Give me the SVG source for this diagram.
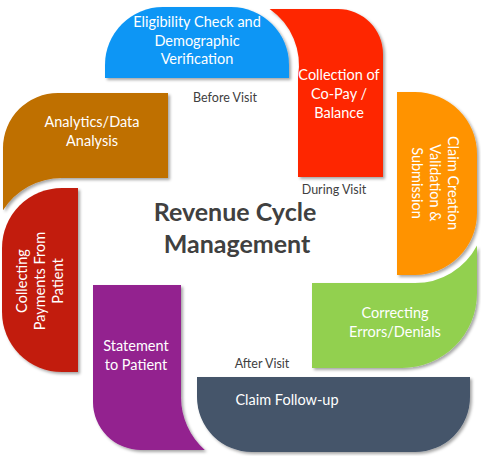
<svg xmlns="http://www.w3.org/2000/svg" width="481" height="456" viewBox="0 0 481 456">
<defs>
<filter id="sh" x="-10%" y="-10%" width="125%" height="125%">
<feDropShadow dx="2" dy="2" stdDeviation="1.5" flood-color="#000" flood-opacity="0.35"/>
</filter>
</defs>
<style>
.shape{filter:url(#sh);}
.lbl{font-family:Lato,"Open Sans",sans-serif;font-size:14.5px;fill:#fff;text-anchor:middle;}
.phase{font-family:Lato,"Open Sans",sans-serif;font-size:12.5px;fill:#404040;text-anchor:middle;}
.title{font-family:Lato,"Open Sans",sans-serif;font-size:25px;font-weight:bold;fill:#404040;text-anchor:middle;}
</style>
<rect width="481" height="456" fill="#fff"/>
<g id="connectors"></g>
<g id="eligibility">
<path class="shape" fill="#0A96F5" d="M105,78 L105,65 A58,58 0 0 1 163,7 L231,7 A58,58 0 0 1 289,65 L289,78 Z"/>
<text class="lbl"><tspan x="197" y="27">Eligibility Check and</tspan><tspan x="197" y="45.5">Demographic</tspan><tspan x="197" y="64">Verification</tspan></text>
</g>
<g id="copay">
<path class="shape" fill="#FE2800" d="M269.6,9 L338,9 A45,45 0 0 1 383,54 L383,177 L298,177 L298,76.6 A68,68 0 0 0 269.6,9 Z"/>
<text class="lbl"><tspan x="339" y="80">Collection of</tspan><tspan x="339" y="99">Co-Pay /</tspan><tspan x="339" y="118">Balance</tspan></text>
</g>
<g id="claimcreation">
<path class="shape" fill="#FF9300" d="M397,92 L415,92 A62,62 0 0 1 477,154 L477,213 A62,62 0 0 1 415,275 L397,275 Z"/>
<text class="lbl" transform="translate(435,183) rotate(90)"><tspan x="0" y="-13.3">Claim Creation</tspan><tspan x="0" y="4.9">Validation &amp;</tspan><tspan x="0" y="23.1">Submission</tspan></text>
</g>
<g id="correcting">
<path class="shape" fill="#92D050" d="M312,283 L415,283 A70,70 0 0 0 477,245.5 L477,293 A75,75 0 0 1 402,368 L312,368 Z"/>
<text class="lbl"><tspan x="395" y="318">Correcting</tspan><tspan x="395" y="337">Errors/Denials</tspan></text>
</g>
<g id="followup">
<path class="shape" fill="#44546A" d="M197,377 L470,377 L470,397 A55,55 0 0 1 415,452 L252,452 A55,55 0 0 1 197,397 Z"/>
<text class="lbl" x="287" y="405">Claim Follow-up</text>
</g>
<g id="statement">
<path class="shape" fill="#93218F" d="M93,285 L181,285 L181,397 A71,71 0 0 0 204.8,450 L141,450 A48,48 0 0 1 93,402 Z"/>
<text class="lbl"><tspan x="136" y="351">Statement</tspan><tspan x="136" y="370">to Patient</tspan></text>
</g>
<g id="collecting">
<path class="shape" fill="#C21E0B" d="M78,188 L78,372 L62,372 A60,60 0 0 1 2,312 L2,248 A60,60 0 0 1 62,188 Z"/>
<text class="lbl" transform="translate(40,281) rotate(-90)"><tspan x="0" y="-13.3">Collecting</tspan><tspan x="0" y="4.9">Payments From</tspan><tspan x="0" y="23.1">Patient</tspan></text>
</g>
<g id="analytics">
<path class="shape" fill="#BF7001" d="M58,93 L168,93 L168,178 L62,178 A70,70 0 0 0 3,210.3 L3,148 A55,55 0 0 1 58,93 Z"/>
<text class="lbl"><tspan x="92" y="127">Analytics/Data</tspan><tspan x="92" y="146">Analysis</tspan></text>
</g>
<g id="center">
<text class="title"><tspan x="235" y="221">Revenue Cycle</tspan><tspan x="237" y="253">Management</tspan></text>
</g>
<g id="phases">
<text class="phase" x="225" y="102">Before Visit</text>
<text class="phase" x="334" y="194">During Visit</text>
<text class="phase" x="262" y="368">After Visit</text>
</g>
</svg>
